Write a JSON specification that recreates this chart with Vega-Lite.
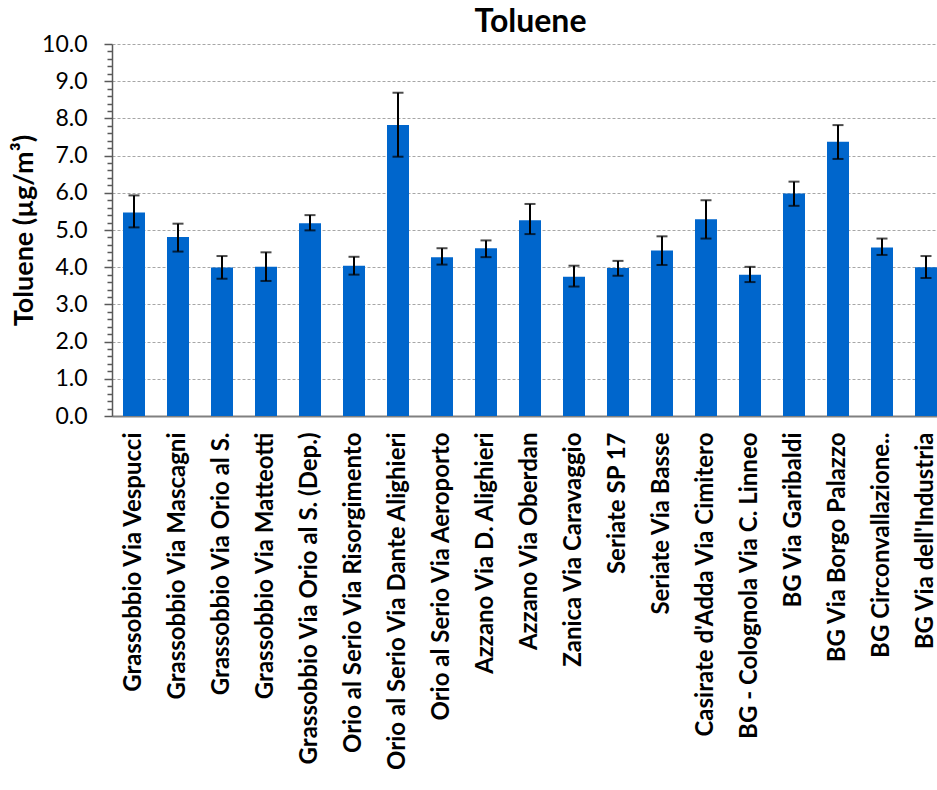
{
  "$schema": "https://vega.github.io/schema/vega-lite/v6.json",
  "width": 825,
  "height": 372,
  "autosize": "none",
  "padding": {"left": 112, "top": 44, "right": 0, "bottom": 374},
  "background": "white",
  "config": {"font": "Lato", "view": {"stroke": null}},
  "title": {"text": "Toluene", "fontSize": 32, "fontWeight": "bold", "font": "Lato", "color": "black", "anchor": "middle", "offset": -6, "dx": 6},
  "data": {"values": [
    {"site": "Grassobbio Via Vespucci", "value": 5.47, "lo": 5.07, "hi": 5.93},
    {"site": "Grassobbio Via Mascagni", "value": 4.81, "lo": 4.42, "hi": 5.17},
    {"site": "Grassobbio Via Orio al S.", "value": 3.99, "lo": 3.69, "hi": 4.30},
    {"site": "Grassobbio Via Matteotti", "value": 4.01, "lo": 3.63, "hi": 4.40},
    {"site": "Grassobbio Via Orio al S. (Dep.)", "value": 5.18, "lo": 4.99, "hi": 5.40},
    {"site": "Orio al Serio Via Risorgimento", "value": 4.04, "lo": 3.80, "hi": 4.28},
    {"site": "Orio al Serio Via Dante Alighieri", "value": 7.82, "lo": 6.97, "hi": 8.69},
    {"site": "Orio al Serio Via Aeroporto", "value": 4.27, "lo": 4.07, "hi": 4.51},
    {"site": "Azzano Via D. Alighieri", "value": 4.51, "lo": 4.27, "hi": 4.72},
    {"site": "Azzano Via Oberdan", "value": 5.26, "lo": 4.89, "hi": 5.70},
    {"site": "Zanica Via Caravaggio", "value": 3.74, "lo": 3.48, "hi": 4.04},
    {"site": "Seriate SP 17", "value": 3.98, "lo": 3.77, "hi": 4.17},
    {"site": "Seriate Via Basse", "value": 4.45, "lo": 4.06, "hi": 4.83},
    {"site": "Casirate d'Adda Via Cimitero", "value": 5.29, "lo": 4.77, "hi": 5.80},
    {"site": "BG - Colognola Via C. Linneo", "value": 3.80, "lo": 3.60, "hi": 4.01},
    {"site": "BG Via Garibaldi", "value": 5.98, "lo": 5.65, "hi": 6.30},
    {"site": "BG Via Borgo Palazzo", "value": 7.37, "lo": 6.91, "hi": 7.82},
    {"site": "BG Circonvallazione..", "value": 4.53, "lo": 4.33, "hi": 4.77},
    {"site": "BG Via dell'Industria", "value": 4.00, "lo": 3.71, "hi": 4.30}
  ]},
  "encoding": {
    "x": {
      "field": "site", "type": "nominal", "sort": null,
      "scale": {"range": [0, 836], "paddingInner": 0.5, "paddingOuter": 0.25},
      "axis": {
        "title": null, "labelAngle": -90, "labelAlign": "right", "labelBaseline": "middle",
        "labelFontSize": 24, "labelFontWeight": "bold", "labelColor": "black", "labelFont": "Lato",
        "labelPadding": 16, "labelLimit": 600, "ticks": false,
        "domainColor": "#808080", "domainWidth": 2, "labelOverlap": false
      }
    }
  },
  "layer": [
    {
      "mark": {"type": "bar", "color": "#0066CC"},
      "encoding": {
        "y": {
          "field": "value", "type": "quantitative",
          "scale": {"domain": [0, 10], "nice": false},
          "axis": {
            "title": "Toluene (µg/m³)", "titleFontSize": 27, "titleFontWeight": "bold", "titleColor": "black", "titleFont": "Lato", "titlePadding": 3,
            "values": [0, 1, 2, 3, 4, 5, 6, 7, 8, 9, 10], "format": ".1f",
            "labelFontSize": 23, "labelColor": "black", "labelFont": "Lato", "labelPadding": 17,
            "tickSize": 8, "tickColor": "#595959", "tickWidth": 1.5,
            "domainColor": "#595959", "domainWidth": 1.5,
            "grid": true, "gridColor": "#a6a6a6", "gridDash": [3, 2], "gridWidth": 1
          }
        }
      }
    },
    {
      "mark": {"type": "rule", "color": "black", "strokeWidth": 2},
      "encoding": {
        "y": {
          "field": "lo", "type": "quantitative",
          "scale": {"domain": [0, 10], "nice": false},
          "axis": {
            "orient": "left", "title": null, "labels": false, "grid": false, "domain": false,
            "values": [0.2, 0.4, 0.6, 0.8, 1.2, 1.4, 1.6, 1.8, 2.2, 2.4, 2.6, 2.8, 3.2, 3.4, 3.6, 3.8, 4.2, 4.4, 4.6, 4.8, 5.2, 5.4, 5.6, 5.8, 6.2, 6.4, 6.6, 6.8, 7.2, 7.4, 7.6, 7.8, 8.2, 8.4, 8.6, 8.8, 9.2, 9.4, 9.6, 9.8],
            "tickSize": 5, "tickColor": "#595959", "tickWidth": 1.5
          }
        },
        "y2": {"field": "hi"}
      }
    },
    {
      "mark": {"type": "tick", "color": "black", "size": 11, "thickness": 2},
      "encoding": {"y": {"field": "lo", "type": "quantitative", "axis": null}}
    },
    {
      "mark": {"type": "tick", "color": "black", "size": 11, "thickness": 2},
      "encoding": {"y": {"field": "hi", "type": "quantitative", "axis": null}}
    }
  ],
  "resolve": {"axis": {"y": "independent"}}
}
